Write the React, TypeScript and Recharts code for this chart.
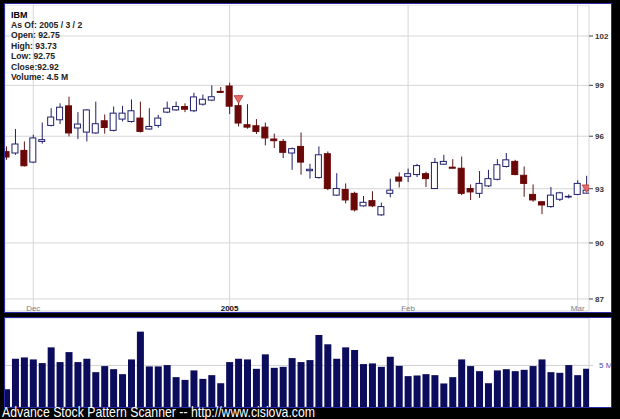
import React from "react";
import { ComposedChart, BarChart, Bar, Scatter, XAxis, YAxis, CartesianGrid } from "recharts";

// IBM daily candles, Nov 26 2004 - Mar 2 2005
const dates = [
  "11/26", "11/29", "11/30",
  "12/1", "12/2", "12/3", "12/6", "12/7", "12/8", "12/9", "12/10", "12/13", "12/14", "12/15", "12/16", "12/17",
  "12/20", "12/21", "12/22", "12/23", "12/27", "12/28", "12/29", "12/30", "12/31",
  "1/3", "1/4", "1/5", "1/6", "1/7", "1/10", "1/11", "1/12", "1/13", "1/14", "1/18", "1/19", "1/20", "1/21",
  "1/24", "1/25", "1/26", "1/27", "1/28", "1/31",
  "2/1", "2/2", "2/3", "2/4", "2/7", "2/8", "2/9", "2/10", "2/11", "2/14", "2/15", "2/16", "2/17", "2/18",
  "2/22", "2/23", "2/24", "2/25", "2/28",
  "3/1", "3/2",
];

const openPx = [
  95.11, 95.03, 95.18, 94.51, 95.7, 96.63, 96.96, 97.78, 96.48, 96.24,
  96.19, 96.9, 96.34, 97.0, 96.86, 97.06, 96.42, 96.63, 97.41, 97.54,
  97.74, 97.49, 97.88, 98.12, 98.64, 98.96, 97.79, 96.67, 96.61, 96.53,
  95.84, 95.7, 95.03, 95.41, 94.02, 93.63, 94.99, 92.64, 92.96, 92.74,
  92.04, 92.33, 91.54, 92.74, 93.66, 93.7, 93.8, 93.85, 93.01, 94.39,
  94.22, 94.16, 93.01, 92.74, 93.16, 93.53, 94.26, 94.55, 93.76, 92.68,
  92.27, 92.0, 92.41, 92.55, 92.68, 92.75,
];
const highPx = [
  95.41, 96.42, 95.7, 96.09, 96.8, 97.64, 97.93, 98.32, 97.41, 97.58,
  98.03, 97.27, 97.74, 97.78, 98.16, 98.03, 97.64, 97.25, 98.03, 98.03,
  97.93, 98.56, 98.45, 99.0, 98.9, 99.16, 98.41, 97.88, 97.0, 96.8,
  96.15, 95.84, 95.35, 96.22, 94.41, 95.41, 95.12, 93.88, 93.3, 92.83,
  92.59, 92.86, 92.22, 93.57, 93.93, 94.14, 94.41, 93.96, 94.74, 94.93,
  94.68, 94.83, 93.24, 94.0, 94.07, 94.68, 95.03, 94.64, 94.26, 93.24,
  92.31, 93.1, 92.83, 92.68, 93.48, 93.73,
];
const lowPx = [
  94.64, 94.93, 94.26, 94.45, 95.57, 96.57, 96.71, 95.99, 95.84, 95.7,
  96.15, 96.15, 96.28, 96.86, 96.8, 96.22, 96.38, 96.5, 97.35, 97.49,
  97.41, 97.41, 97.79, 98.06, 98.54, 97.29, 96.57, 96.44, 96.13, 95.47,
  95.32, 94.74, 94.07, 93.79, 93.57, 93.57, 92.92, 92.6, 92.18, 91.73,
  92.0, 91.97, 91.49, 92.52, 93.07, 93.38, 93.66, 93.1, 92.99, 94.36,
  94.16, 92.64, 92.37, 92.49, 93.1, 93.47, 94.2, 93.76, 92.55, 92.27,
  91.58, 91.94, 92.31, 92.46, 92.64, 92.75,
];
const closePx = [
  94.8, 95.55, 94.3, 95.9, 95.8, 97.12, 97.7, 96.19, 96.71, 97.54,
  96.73, 96.51, 97.35, 97.35, 97.49, 96.28, 96.57, 97.06, 97.64, 97.74,
  97.58, 98.31, 98.17, 98.32, 98.58, 97.76, 96.77, 96.53, 96.28, 95.9,
  95.74, 95.07, 95.28, 94.51, 94.1, 94.93, 93.01, 93.01, 92.37, 91.82,
  92.24, 92.04, 92.0, 92.92, 93.43, 93.85, 94.31, 93.57, 94.49, 94.55,
  94.16, 92.74, 92.82, 93.3, 93.57, 94.36, 94.64, 93.8, 93.3, 92.37,
  92.09, 92.64, 92.77, 92.57, 93.3, 92.92,
];
// volume in millions of shares
const volumeM = [
  2.13, 5.8, 5.96, 5.72, 5.28, 7.17, 5.4, 6.6, 5.4, 5.8,
  4.19, 4.92, 4.55, 3.95, 5.72, 9.06, 4.88, 4.88, 5.04, 3.59,
  3.26, 4.4, 3.38, 3.83, 2.86, 5.4, 5.8, 5.72, 4.59, 6.33,
  4.71, 4.83, 5.88, 5.4, 5.64, 8.66, 7.54, 5.8, 7.17, 6.85,
  5.16, 5.24, 4.83, 6.04, 4.95, 3.71, 3.79, 3.95, 3.83, 2.83,
  3.59, 5.72, 4.92, 4.31, 2.86, 4.4, 4.55, 4.31, 4.47, 4.92,
  5.72, 4.19, 4.11, 5.04, 3.83, 4.6,
];

// pattern signals (down triangles), apex price
const signalIdx = [26, 65];
const signalPx = [97.94, 92.79];

const monthTicks = [3, 25, 45, 64];
const monthLabels = ["Dec", "2005", "Feb", "Mar"];
const priceTicks = [87, 90, 93, 96, 99, 102];
const volTicks = [5];

const infoLines = ["As Of: 2005 / 3 / 2", "Open: 92.75", "High: 93.73", "Low: 92.75", "Close:92.92", "Volume: 4.5 M"];

const rows = dates.map((d, i) => ({
  i,
  date: d,
  up: closePx[i] >= openPx[i],
  wick: [lowPx[i], highPx[i]],
  body: [Math.min(openPx[i], closePx[i]), Math.max(openPx[i], closePx[i])],
  vol: volumeM[i],
}));
const signals = signalIdx.map((i, k) => ({ i, sig: signalPx[k] }));

const FONT = "'Liberation Sans', Arial, sans-serif";
const X_DOMAIN = [-0.168, 65.27];
const UP = "#1f1f6e";
const DOWN = "#6a0808";

const WickShape = (p: any) => {
  const cx = p.x + p.width / 2;
  return <line x1={cx} x2={cx} y1={p.y} y2={p.y + p.height} stroke={p.payload.up ? UP : "#5c1414"} strokeWidth={1} />;
};

const BodyShape = (p: any) => {
  const up = p.payload.up;
  return (
    <rect
      x={p.x}
      y={p.y}
      width={p.width}
      height={Math.max(p.height, 0.6)}
      fill={up ? "#ffffff" : DOWN}
      stroke={up ? UP : DOWN}
      strokeWidth={1}
    />
  );
};

const SignalShape = (p: any) => {
  const { cx, cy } = p;
  if (cx == null || cy == null) return null;
  const pts = `${cx - 4.5},${cy - 7.5} ${cx + 4.5},${cy - 7.5} ${cx},${cy}`;
  return <polygon points={pts} fill="#e86a6a" stroke="#b83a3a" strokeWidth={0.8} />;
};

const MonthTick = (p: any) => {
  const k = monthTicks.indexOf(p.payload.value);
  const label = monthLabels[k];
  const isYear = label === "2005";
  return (
    <text
      x={p.x}
      y={p.y}
      textAnchor="middle"
      fontSize={8}
      fontFamily={FONT}
      fontWeight={isYear ? "bold" : "normal"}
      fill={isYear ? "#111" : "#808080"}
    >
      {label}
    </text>
  );
};

const VolTick = (p: any) => (
  <text x={p.x} y={p.y} dy={3} fontSize={8} fontFamily={FONT} fill="#4a4ab8">
    {`${p.payload.value} M`}
  </text>
);

export default function App() {
  return (
    <div style={{ position: "absolute", left: 0, top: 0, width: 620, height: 419, background: "#000", overflow: "hidden" }}>
      <div
        style={{
          position: "absolute",
          left: 4,
          top: 3,
          width: 608,
          height: 310,
          boxSizing: "border-box",
          border: "1px solid #2c2ca8",
          background: "#fff",
        }}
      />
      <div
        style={{
          position: "absolute",
          left: 4,
          top: 317,
          width: 608,
          height: 91,
          boxSizing: "border-box",
          border: "1px solid #2c2ca8",
          background: "#fff",
        }}
      />

      <div style={{ position: "absolute", left: 5, top: 5 }}>
        <ComposedChart width={606} height={307} data={rows} margin={{ top: 0, right: 0, bottom: 0, left: 0 }}>
          <CartesianGrid stroke="#d6d6d6" xAxisId="main" />
          <XAxis
            xAxisId="main"
            dataKey="i"
            type="number"
            domain={X_DOMAIN}
            allowDataOverflow
            ticks={monthTicks}
            interval={0}
            height={1}
            axisLine={false}
            tickLine={false}
            tickSize={0}
            tickMargin={0}
            tick={<MonthTick />}
          />
          <XAxis
            xAxisId="body"
            orientation="top"
            height={0}
            dataKey="i"
            type="number"
            domain={X_DOMAIN}
            allowDataOverflow
            hide
          />
          <YAxis
            orientation="right"
            scale="log"
            domain={[86.37, 103.93]}
            allowDataOverflow
            ticks={priceTicks}
            interval={0}
            width={22}
            axisLine={false}
            tickSize={4}
            tickMargin={2}
            tickLine={{ stroke: "#444" }}
            tick={{ fontSize: 8, fontWeight: "bold", fill: "#333", fontFamily: FONT }}
          />
          <Bar xAxisId="main" dataKey="wick" barSize={1} shape={<WickShape />} isAnimationActive={false} />
          <Bar xAxisId="body" dataKey="body" barSize={6} shape={<BodyShape />} isAnimationActive={false} />
          <Scatter xAxisId="main" data={signals} dataKey="sig" shape={<SignalShape />} isAnimationActive={false} />
        </ComposedChart>
      </div>

      <div style={{ position: "absolute", left: 5, top: 318 }}>
        <BarChart width={606} height={89} data={rows} margin={{ top: 0, right: 0, bottom: 0, left: 0 }}>
          <CartesianGrid stroke="#d0d0d0" />
          <XAxis
            dataKey="i"
            type="number"
            domain={X_DOMAIN}
            allowDataOverflow
            ticks={monthTicks}
            interval={0}
            height={0}
            axisLine={false}
            tickLine={false}
            tick={false}
          />
          <YAxis
            orientation="right"
            domain={[0, 10.7]}
            allowDataOverflow
            ticks={volTicks}
            interval={0}
            width={22}
            axisLine={false}
            tickSize={4}
            tickMargin={6}
            tickLine={{ stroke: "#d0d0d0" }}
            tick={<VolTick />}
          />
          <Bar dataKey="vol" barSize={7} fill="#0c0c5c" isAnimationActive={false} />
        </BarChart>
      </div>

      <svg width={620} height={419} style={{ position: "absolute", left: 0, top: 0, pointerEvents: "none" }}>
        <text x={11} y={17.5} fontSize={9} fontWeight="bold" fontFamily={FONT} fill="#000">
          IBM
        </text>
        {infoLines.map((t, k) => (
          <text key={t} x={11} y={27.9 + k * 10.4} fontSize={8.6} fontWeight="bold" fontFamily={FONT} fill="#222">
            {t}
          </text>
        ))}
        <text
          x={2}
          y={416.5}
          fontSize={15}
          fontFamily={FONT}
          fill="#fff"
          textLength={313}
          lengthAdjust="spacingAndGlyphs"
        >
          Advance Stock Pattern Scanner -- http://www.cisiova.com
        </text>
      </svg>
    </div>
  );
}
